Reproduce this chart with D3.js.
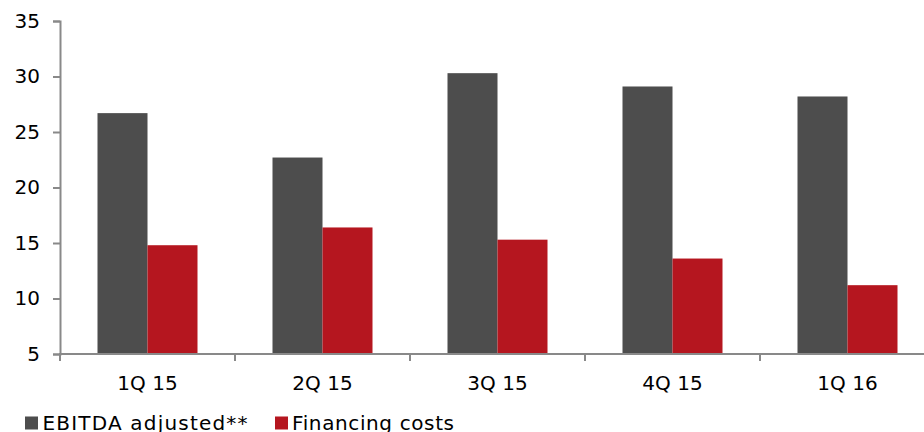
<!DOCTYPE html>
<html><head><meta charset="utf-8">
<script src="https://cdn.jsdelivr.net/npm/d3@7"></script>
<style>body{margin:0;background:#fff}svg{display:block}text{font-family:"DejaVu Sans",Verdana,sans-serif}</style>
</head><body>
<svg id="c" width="924" height="432"></svg>
<script>
const categories = ["1Q 15","2Q 15","3Q 15","4Q 15","1Q 16"];
const seriesNames = ["EBITDA adjusted**","Financing costs"];
const ebitda = [26.7, 22.7, 30.3, 29.1, 28.2];
const financing = [14.8, 16.4, 15.3, 13.6, 11.2];
const yTicks = [5,10,15,20,25,30,35];
const colors = ["#4d4d4d","#b5161f"];

const svg = d3.select("#c");
const x0 = d3.scaleBand().domain(categories).range([60, 935]).paddingInner(0).paddingOuter(0);
const x1 = d3.scaleBand().domain(seriesNames).range([0, x0.bandwidth()]).paddingInner(0).paddingOuter(0.75);
const y = d3.scaleLinear().domain([5,35]).range([354, 21]);

const rows = categories.map((c,i)=>({c, vals:[ebitda[i], financing[i]]}));
const g = svg.append("g");
g.selectAll("g.grp").data(rows).join("g")
  .attr("transform", d=>`translate(${x0(d.c)},0)`)
  .selectAll("rect").data(d=>d.vals.map((v,j)=>({v, s:seriesNames[j], j})))
  .join("rect")
  .attr("x", d=>x1(d.s)).attr("width", x1.bandwidth())
  .attr("y", d=>y(d.v)).attr("height", d=>y(5)-y(d.v))
  .attr("fill", d=>colors[d.j]);

const ya = svg.append("g").attr("transform","translate(60,0)")
  .call(d3.axisLeft(y).tickValues(yTicks).tickSize(7).tickPadding(13).tickFormat(d3.format("d")));
ya.select(".domain").attr("stroke","#898989").attr("stroke-width",2);
ya.selectAll(".tick line").attr("stroke","#898989").attr("stroke-width",2);
ya.selectAll(".tick text").attr("font-size",20).attr("fill","#000").attr("font-family","DejaVu Sans, Verdana, sans-serif");

const boundaries = categories.map(c=>x0(c)).concat([x0(categories[categories.length-1])+x0.bandwidth()]);
const xa = svg.append("g").attr("transform","translate(0,354)");
xa.append("line").attr("x1",59).attr("x2",935).attr("stroke","#898989").attr("stroke-width",2);
xa.selectAll("line.t").data(boundaries).join("line").attr("class","t")
  .attr("x1",d=>d).attr("x2",d=>d).attr("y1",0).attr("y2",7).attr("stroke","#898989").attr("stroke-width",2);
xa.selectAll("text").data(categories).join("text")
  .attr("x",d=>x0(d)+x0.bandwidth()/2).attr("y",36).attr("text-anchor","middle")
  .attr("font-size",20).attr("fill","#000").text(d=>d);

const legX = [25, 275];
const legLen = [205, 162];
const lg = svg.selectAll("g.leg").data(seriesNames).join("g").attr("class","leg")
  .attr("transform",(d,i)=>`translate(${legX[i]},0)`);
lg.append("rect").attr("x",0).attr("y",416.5).attr("width",13).attr("height",13).attr("fill",(d,i)=>colors[i]);
lg.append("text").attr("x",(d,i)=> i===0?17.5:17).attr("y",429.5).attr("font-size",20).attr("fill","#000")
  .attr("textLength",(d,i)=>legLen[i]).attr("lengthAdjust","spacing").text(d=>d);
</script>
</body></html>
